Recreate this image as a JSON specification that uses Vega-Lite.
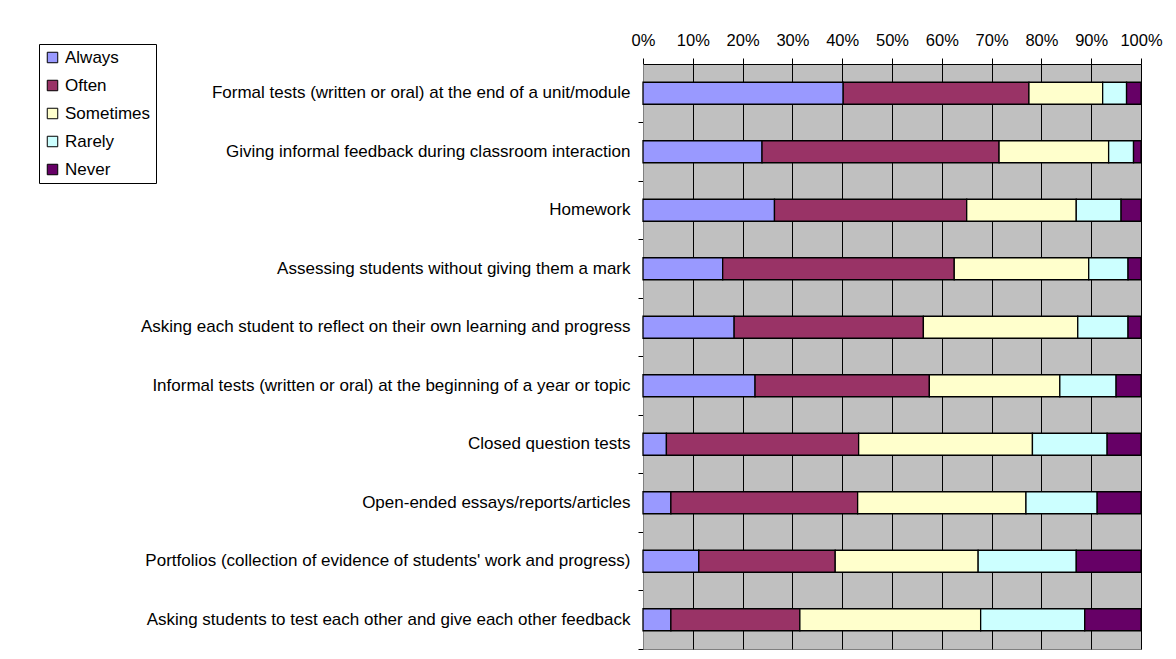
{
  "$schema": "https://vega.github.io/schema/vega-lite/v6.json",
  "width": 498,
  "height": 585,
  "autosize": {"type": "none"},
  "padding": {"left": 643, "top": 64, "right": 35, "bottom": 10},
  "background": "white",
  "config": {
    "view": {"fill": "#C0C0C0", "stroke": "#808080", "strokeWidth": 1},
    "font": "Liberation Sans"
  },
  "data": {
    "values": [
      {"item": "Formal tests (written or oral) at the end of a unit/module", "response": "Always", "ord": 1, "pct": 40.2},
      {"item": "Formal tests (written or oral) at the end of a unit/module", "response": "Often", "ord": 2, "pct": 37.3},
      {"item": "Formal tests (written or oral) at the end of a unit/module", "response": "Sometimes", "ord": 3, "pct": 14.8},
      {"item": "Formal tests (written or oral) at the end of a unit/module", "response": "Rarely", "ord": 4, "pct": 4.8},
      {"item": "Formal tests (written or oral) at the end of a unit/module", "response": "Never", "ord": 5, "pct": 2.9},
      {"item": "Giving informal feedback during classroom interaction", "response": "Always", "ord": 1, "pct": 23.9},
      {"item": "Giving informal feedback during classroom interaction", "response": "Often", "ord": 2, "pct": 47.6},
      {"item": "Giving informal feedback during classroom interaction", "response": "Sometimes", "ord": 3, "pct": 22.0},
      {"item": "Giving informal feedback during classroom interaction", "response": "Rarely", "ord": 4, "pct": 5.0},
      {"item": "Giving informal feedback during classroom interaction", "response": "Never", "ord": 5, "pct": 1.5},
      {"item": "Homework", "response": "Always", "ord": 1, "pct": 26.4},
      {"item": "Homework", "response": "Often", "ord": 2, "pct": 38.6},
      {"item": "Homework", "response": "Sometimes", "ord": 3, "pct": 22.0},
      {"item": "Homework", "response": "Rarely", "ord": 4, "pct": 9.0},
      {"item": "Homework", "response": "Never", "ord": 5, "pct": 4.0},
      {"item": "Assessing students without giving them a mark", "response": "Always", "ord": 1, "pct": 16.0},
      {"item": "Assessing students without giving them a mark", "response": "Often", "ord": 2, "pct": 46.5},
      {"item": "Assessing students without giving them a mark", "response": "Sometimes", "ord": 3, "pct": 27.0},
      {"item": "Assessing students without giving them a mark", "response": "Rarely", "ord": 4, "pct": 7.9},
      {"item": "Assessing students without giving them a mark", "response": "Never", "ord": 5, "pct": 2.6},
      {"item": "Asking each student to reflect on their own learning and progress", "response": "Always", "ord": 1, "pct": 18.3},
      {"item": "Asking each student to reflect on their own learning and progress", "response": "Often", "ord": 2, "pct": 38.0},
      {"item": "Asking each student to reflect on their own learning and progress", "response": "Sometimes", "ord": 3, "pct": 31.0},
      {"item": "Asking each student to reflect on their own learning and progress", "response": "Rarely", "ord": 4, "pct": 10.1},
      {"item": "Asking each student to reflect on their own learning and progress", "response": "Never", "ord": 5, "pct": 2.6},
      {"item": "Informal tests (written or oral) at the beginning of a year or topic", "response": "Always", "ord": 1, "pct": 22.5},
      {"item": "Informal tests (written or oral) at the beginning of a year or topic", "response": "Often", "ord": 2, "pct": 35.0},
      {"item": "Informal tests (written or oral) at the beginning of a year or topic", "response": "Sometimes", "ord": 3, "pct": 26.2},
      {"item": "Informal tests (written or oral) at the beginning of a year or topic", "response": "Rarely", "ord": 4, "pct": 11.3},
      {"item": "Informal tests (written or oral) at the beginning of a year or topic", "response": "Never", "ord": 5, "pct": 5.0},
      {"item": "Closed question tests", "response": "Always", "ord": 1, "pct": 4.7},
      {"item": "Closed question tests", "response": "Often", "ord": 2, "pct": 38.6},
      {"item": "Closed question tests", "response": "Sometimes", "ord": 3, "pct": 34.9},
      {"item": "Closed question tests", "response": "Rarely", "ord": 4, "pct": 15.0},
      {"item": "Closed question tests", "response": "Never", "ord": 5, "pct": 6.8},
      {"item": "Open-ended essays/reports/articles", "response": "Always", "ord": 1, "pct": 5.6},
      {"item": "Open-ended essays/reports/articles", "response": "Often", "ord": 2, "pct": 37.5},
      {"item": "Open-ended essays/reports/articles", "response": "Sometimes", "ord": 3, "pct": 33.8},
      {"item": "Open-ended essays/reports/articles", "response": "Rarely", "ord": 4, "pct": 14.3},
      {"item": "Open-ended essays/reports/articles", "response": "Never", "ord": 5, "pct": 8.8},
      {"item": "Portfolios (collection of evidence of students' work and progress)", "response": "Always", "ord": 1, "pct": 11.2},
      {"item": "Portfolios (collection of evidence of students' work and progress)", "response": "Often", "ord": 2, "pct": 27.4},
      {"item": "Portfolios (collection of evidence of students' work and progress)", "response": "Sometimes", "ord": 3, "pct": 28.7},
      {"item": "Portfolios (collection of evidence of students' work and progress)", "response": "Rarely", "ord": 4, "pct": 19.7},
      {"item": "Portfolios (collection of evidence of students' work and progress)", "response": "Never", "ord": 5, "pct": 13.0},
      {"item": "Asking students to test each other and give each other feedback", "response": "Always", "ord": 1, "pct": 5.6},
      {"item": "Asking students to test each other and give each other feedback", "response": "Often", "ord": 2, "pct": 25.9},
      {"item": "Asking students to test each other and give each other feedback", "response": "Sometimes", "ord": 3, "pct": 36.3},
      {"item": "Asking students to test each other and give each other feedback", "response": "Rarely", "ord": 4, "pct": 20.9},
      {"item": "Asking students to test each other and give each other feedback", "response": "Never", "ord": 5, "pct": 11.3}
    ]
  },
  "mark": {"type": "bar", "height": 22, "stroke": "black", "strokeWidth": 1.3},
  "encoding": {
    "y": {
      "field": "item",
      "type": "nominal",
      "sort": null,
      "scale": {"paddingInner": 0, "paddingOuter": 0},
      "axis": {
        "title": null,
        "bandPosition": 1,
        "tickSize": 5,
        "tickColor": "black",
        "domainColor": "#808080",
        "labelFontSize": 17,
        "labelColor": "black",
        "labelPadding": 8,
        "labelLimit": 0
      }
    },
    "x": {
      "field": "pct",
      "type": "quantitative",
      "stack": "normalize",
      "scale": {"domain": [0, 1], "nice": false},
      "axis": {
        "orient": "top",
        "title": null,
        "format": ".0%",
        "values": [0, 0.1, 0.2, 0.3, 0.4, 0.5, 0.6, 0.7, 0.8, 0.9, 1],
        "labelOverlap": false,
        "labelFlush": false,
        "grid": true,
        "gridColor": "black",
        "gridOpacity": 1,
        "tickColor": "black",
        "tickSize": 6,
        "domainColor": "black",
        "labelFontSize": 16.5,
        "labelColor": "black",
        "labelPadding": 10
      }
    },
    "color": {
      "field": "response",
      "type": "nominal",
      "scale": {
        "domain": ["Always", "Often", "Sometimes", "Rarely", "Never"],
        "range": ["#9999FF", "#993366", "#FFFFCC", "#CCFFFF", "#660066"]
      },
      "legend": {
        "orient": "none",
        "legendX": -604,
        "legendY": -20,
        "title": null,
        "symbolType": "square",
        "symbolSize": 110,
        "symbolStrokeColor": "black",
        "symbolStrokeWidth": 1,
        "labelFontSize": 17,
        "labelColor": "black",
        "labelOffset": 4,
        "rowPadding": 10,
        "padding": 5,
        "strokeColor": "black",
        "fillColor": "white"
      }
    },
    "order": {"field": "ord", "type": "quantitative"}
  }
}
